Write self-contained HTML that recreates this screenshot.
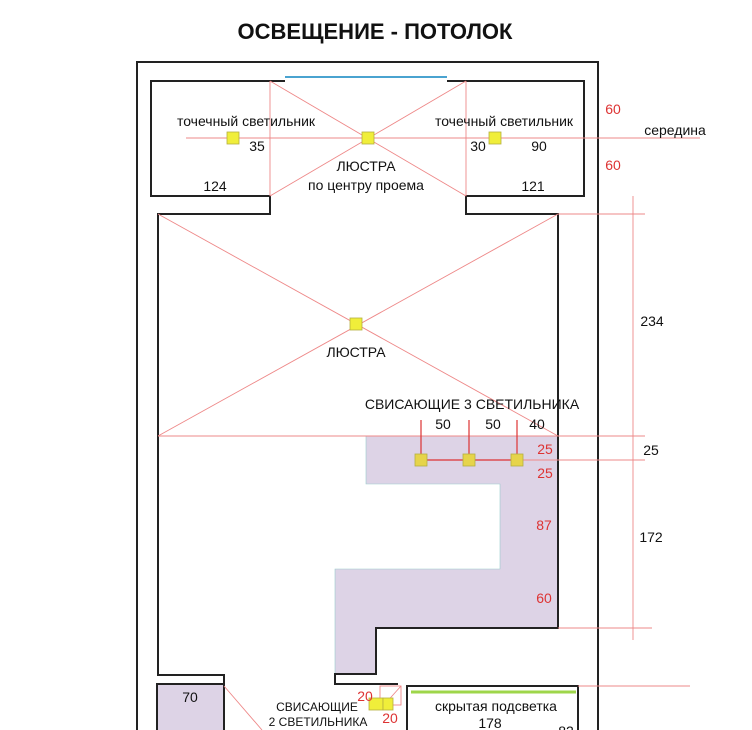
<!DOCTYPE html>
<html><head><meta charset="utf-8"><style>
body{margin:0;background:#fff;}
svg{display:block;font-family:"Liberation Sans",sans-serif;}
</style></head><body>
<svg width="752" height="730" viewBox="0 0 752 730" xmlns="http://www.w3.org/2000/svg">
<text x="375" y="39" text-anchor="middle" font-size="22" font-weight="bold" fill="#111">ОСВЕЩЕНИЕ - ПОТОЛОК</text>
<!-- purple fills -->
<polygon points="366,436 558,436 558,628 376,628 376,674 335,674 335,569 500,569 500,484 366,484" fill="#ddd3e6" stroke="#9cc" stroke-width="0.6"/>
<rect x="157" y="684" width="66" height="50" fill="#ddd3e6"/>
<!-- walls -->
<g fill="none" stroke="#222" stroke-width="2">
<polyline points="137,735 137,62 598,62 598,735"/>
<polyline points="285,81 151,81 151,196 270,196 270,214 158,214 158,675 224,675 224,684 157,684 157,735"/>
<polyline points="447,81 584,81 584,196 466,196 466,214 558,214 558,628 376,628 376,674 335,674 335,684 398,684"/>
<polyline points="224,684 224,735"/>
<polyline points="407,735 407,686 578,686 578,735"/>
</g>
<line x1="285" y1="77" x2="447" y2="77" stroke="#4aa3d0" stroke-width="2"/>
<line x1="411" y1="692" x2="576" y2="692" stroke="#9ed64a" stroke-width="3"/>
<!-- red construction lines -->
<g stroke="#e88" stroke-width="0.9" fill="none">
<line x1="270" y1="81" x2="466" y2="196"/>
<line x1="466" y1="81" x2="270" y2="196"/>
<line x1="270" y1="81" x2="270" y2="196"/>
<line x1="466" y1="81" x2="466" y2="196"/>
<line x1="186" y1="138" x2="700" y2="138"/>
<line x1="158" y1="214" x2="558" y2="436"/>
<line x1="558" y1="214" x2="158" y2="436"/>
<line x1="158" y1="436" x2="645" y2="436"/>
<line x1="415" y1="460" x2="645" y2="460"/>
<line x1="633" y1="196" x2="633" y2="640"/>
<line x1="558" y1="214" x2="645" y2="214"/>
<line x1="558" y1="628" x2="652" y2="628"/>
<line x1="578" y1="686" x2="690" y2="686"/>
<line x1="224" y1="686" x2="262" y2="730"/>
<rect x="380" y="686" width="21" height="19"/>
<line x1="401" y1="686" x2="384" y2="705"/>
</g>
<g stroke="#d33" stroke-width="1.2">
<line x1="421" y1="420" x2="421" y2="460"/>
<line x1="469" y1="420" x2="469" y2="460"/>
<line x1="517" y1="420" x2="517" y2="460"/>
<line x1="421" y1="460" x2="517" y2="460"/>
</g>
<!-- lights -->
<g fill="#f0ee3a" stroke="#b5b040" stroke-width="0.8">
<rect x="227" y="132" width="12" height="12"/>
<rect x="362" y="132" width="12" height="12"/>
<rect x="489" y="132" width="12" height="12"/>
<rect x="350" y="318" width="12" height="12"/>
<rect x="415" y="454" width="12" height="12" fill="#e6d44a"/>
<rect x="463" y="454" width="12" height="12" fill="#e6d44a"/>
<rect x="511" y="454" width="12" height="12" fill="#e6d44a"/>
<rect x="369" y="698" width="14" height="12"/>
<rect x="383" y="698" width="10" height="12"/>
</g>
<!-- black labels -->
<g font-size="14" fill="#111">
<text x="246" y="126" text-anchor="middle">точечный светильник</text>
<text x="504" y="126" text-anchor="middle">точечный светильник</text>
<text x="257" y="151" text-anchor="middle">35</text>
<text x="478" y="151" text-anchor="middle">30</text>
<text x="539" y="151" text-anchor="middle">90</text>
<text x="366" y="171" text-anchor="middle">ЛЮСТРА</text>
<text x="366" y="190" text-anchor="middle">по центру проема</text>
<text x="215" y="191" text-anchor="middle">124</text>
<text x="533" y="191" text-anchor="middle">121</text>
<text x="675" y="135" text-anchor="middle">середина</text>
<text x="652" y="326" text-anchor="middle">234</text>
<text x="651" y="455" text-anchor="middle">25</text>
<text x="651" y="542" text-anchor="middle">172</text>
<text x="356" y="357" text-anchor="middle">ЛЮСТРА</text>
<text x="472" y="409" text-anchor="middle">СВИСАЮЩИЕ 3 СВЕТИЛЬНИКА</text>
<text x="443" y="429" text-anchor="middle">50</text>
<text x="493" y="429" text-anchor="middle">50</text>
<text x="537" y="429" text-anchor="middle">40</text>
<text x="190" y="702" text-anchor="middle">70</text>
<text x="496" y="711" text-anchor="middle">скрытая подсветка</text>
<text x="490" y="728" text-anchor="middle">178</text>
<text x="566" y="736" text-anchor="middle">82</text>
<text x="317" y="711" text-anchor="middle" font-size="12">СВИСАЮЩИЕ</text>
<text x="318" y="726" text-anchor="middle" font-size="12">2 СВЕТИЛЬНИКА</text>
</g>
<!-- red labels -->
<g font-size="14" fill="#d33">
<text x="613" y="114" text-anchor="middle">60</text>
<text x="613" y="170" text-anchor="middle">60</text>
<text x="545" y="454" text-anchor="middle">25</text>
<text x="545" y="478" text-anchor="middle">25</text>
<text x="544" y="530" text-anchor="middle">87</text>
<text x="544" y="603" text-anchor="middle">60</text>
<text x="365" y="701" text-anchor="middle">20</text>
<text x="390" y="723" text-anchor="middle">20</text>
</g>
</svg>
</body></html>
